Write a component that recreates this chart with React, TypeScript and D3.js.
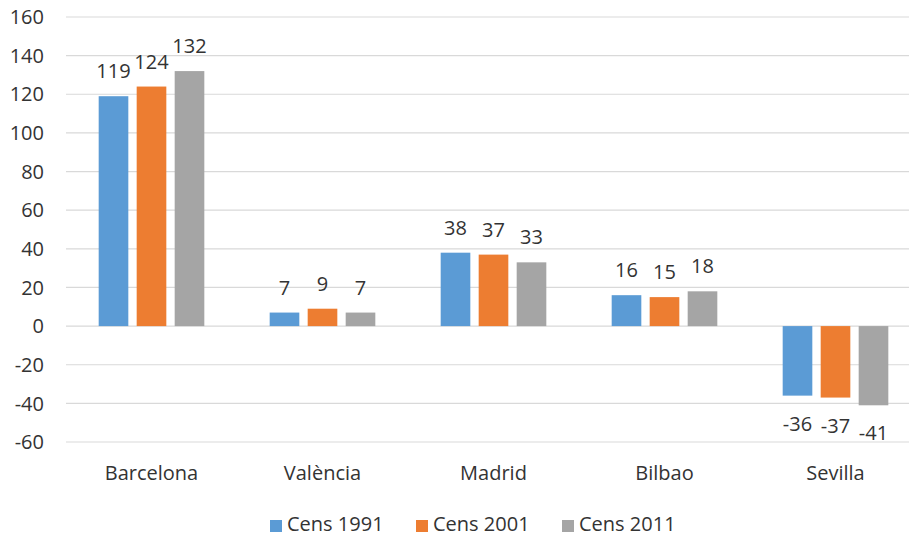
import React from "react";
import * as d3 from "d3";

const categories = ["Barcelona", "València", "Madrid", "Bilbao", "Sevilla"];
const seriesNames = ["Cens 1991", "Cens 2001", "Cens 2011"];
const cens1991 = [119, 7, 38, 16, -36];
const cens2001 = [124, 9, 37, 15, -37];
const cens2011 = [132, 7, 33, 18, -41];
const yTicks = [-60, -40, -20, 0, 20, 40, 60, 80, 100, 120, 140, 160];
const colors = ["#5B9BD5", "#ED7D31", "#A5A5A5"];

const W = 909;
const H = 537;
const FONT = "'Open Sans', sans-serif";
const TEXT = "#333333";

export default function App() {
  const series = [cens1991, cens2001, cens2011];
  const y = d3.scaleLinear().domain([-60, 160]).range([442, 17]);
  const x0 = d3
    .scaleBand<string>()
    .domain(categories)
    .range([66, 921])
    .paddingInner(1 / 3)
    .paddingOuter(1 / 6);
  const x1 = d3
    .scaleBand<string>()
    .domain(seriesNames)
    .range([0, x0.bandwidth()])
    .paddingInner(0.22)
    .paddingOuter(0.11);

  const legendX = [270, 416, 562];

  return (
    <svg
      width={W}
      height={H}
      style={{ position: "absolute", left: 0, top: 0, overflow: "hidden", background: "#fff" }}
      fontFamily={FONT}
    >
      <rect x={0} y={0} width={W} height={H} fill="#fff" />
      {yTicks.map((t) => (
        <g key={t}>
          <line x1={66} x2={921} y1={y(t)} y2={y(t)} stroke="#d9d9d9" strokeWidth={1.2} />
          <text x={44} y={y(t)} dy="0.36em" textAnchor="end" fontSize={20} fill={TEXT}>
            {t}
          </text>
        </g>
      ))}
      {categories.map((c, ci) => (
        <g key={c} transform={`translate(${x0(c)},0)`}>
          {series.map((s, si) => {
            const v = s[ci];
            const bx = x1(seriesNames[si])!;
            const top = y(Math.max(0, v));
            const bot = y(Math.min(0, v));
            const cx = bx + x1.bandwidth() / 2;
            return (
              <g key={si}>
                <rect x={bx} y={top} width={x1.bandwidth()} height={bot - top} fill={colors[si]} />
                <text
                  x={cx}
                  y={v >= 0 ? top - 18 : bot + 35}
                  textAnchor="middle"
                  fontSize={20}
                  fill={TEXT}
                >
                  {v}
                </text>
              </g>
            );
          })}
          <text x={x0.bandwidth() / 2} y={480} textAnchor="middle" fontSize={20} fill={TEXT}>
            {c}
          </text>
        </g>
      ))}
      {seriesNames.map((n, i) => (
        <g key={n}>
          <rect x={legendX[i]} y={520} width={12} height={12} fill={colors[i]} />
          <text x={legendX[i] + 17} y={531} fontSize={20} fill={TEXT}>
            {n}
          </text>
        </g>
      ))}
    </svg>
  );
}
